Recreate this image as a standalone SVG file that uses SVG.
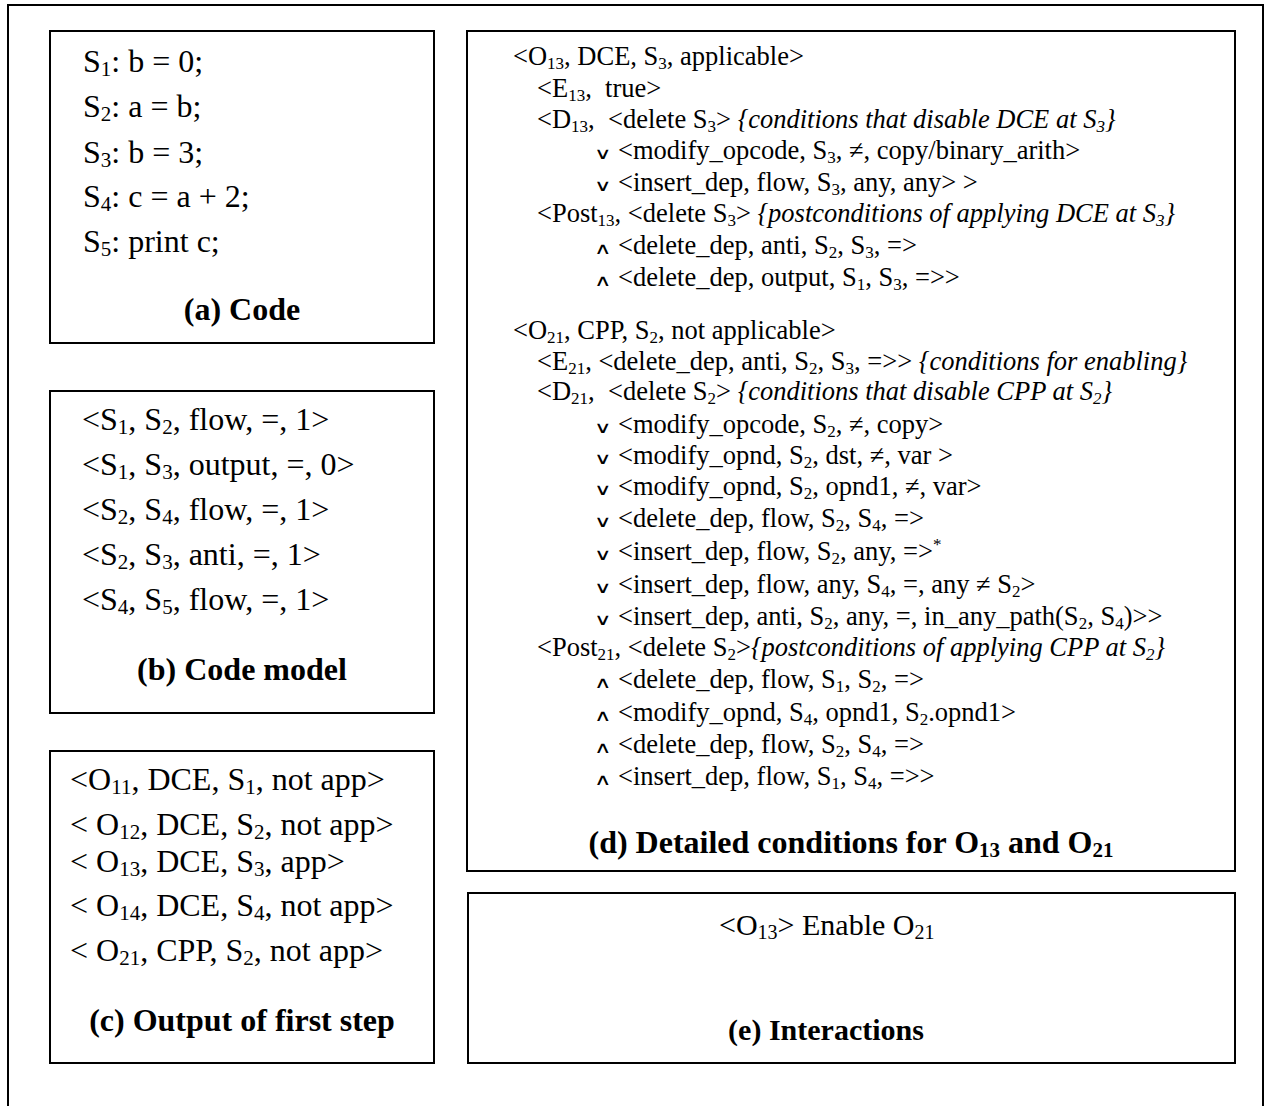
<svg xmlns="http://www.w3.org/2000/svg" width="1268" height="1106" viewBox="0 0 1268 1106">
<style>
.box{fill:none;stroke:#000;stroke-width:2}
.t{font-family:"Liberation Serif","Times New Roman",serif;font-size:32px;fill:#000}
.d{font-size:26.5px}
.e{font-size:30px}
.ttl{font-weight:bold;text-anchor:middle}
.s{font-size:21px}
.sd{font-size:17px}
.se{font-size:20px}
.op{font-family:"DejaVu Sans","DejaVu Serif",sans-serif;font-weight:200;font-size:16px;fill:#000}
.i{font-style:italic}
</style>
<rect x="8" y="5" width="1255" height="1115" class="box"/>

<g id="panel-a">
<rect x="50" y="31" width="384" height="312" class="box"/>
<text class="t" x="83" y="72">S<tspan class="s" dy="4">1</tspan><tspan dy="-4">: b = 0;</tspan></text>
<text class="t" x="83" y="117">S<tspan class="s" dy="4">2</tspan><tspan dy="-4">: a = b;</tspan></text>
<text class="t" x="83" y="163">S<tspan class="s" dy="4">3</tspan><tspan dy="-4">: b = 3;</tspan></text>
<text class="t" x="83" y="207">S<tspan class="s" dy="4">4</tspan><tspan dy="-4">: c = a + 2;</tspan></text>
<text class="t" x="83" y="252">S<tspan class="s" dy="4">5</tspan><tspan dy="-4">: print c;</tspan></text>
<text class="t ttl" x="242" y="320">(a) Code</text>
</g>

<g id="panel-b">
<rect x="50" y="391" width="384" height="322" class="box"/>
<text class="t" x="82" y="430">&lt;S<tspan class="s" dy="4">1</tspan><tspan dy="-4">, S</tspan><tspan class="s" dy="4">2</tspan><tspan dy="-4">, flow, =, 1&gt;</tspan></text>
<text class="t" x="82" y="475">&lt;S<tspan class="s" dy="4">1</tspan><tspan dy="-4">, S</tspan><tspan class="s" dy="4">3</tspan><tspan dy="-4">, output, =, 0&gt;</tspan></text>
<text class="t" x="82" y="520">&lt;S<tspan class="s" dy="4">2</tspan><tspan dy="-4">, S</tspan><tspan class="s" dy="4">4</tspan><tspan dy="-4">, flow, =, 1&gt;</tspan></text>
<text class="t" x="82" y="565">&lt;S<tspan class="s" dy="4">2</tspan><tspan dy="-4">, S</tspan><tspan class="s" dy="4">3</tspan><tspan dy="-4">, anti, =, 1&gt;</tspan></text>
<text class="t" x="82" y="610">&lt;S<tspan class="s" dy="4">4</tspan><tspan dy="-4">, S</tspan><tspan class="s" dy="4">5</tspan><tspan dy="-4">, flow, =, 1&gt;</tspan></text>
<text class="t ttl" x="242" y="680">(b) Code model</text>
</g>

<g id="panel-c">
<rect x="50" y="751" width="384" height="312" class="box"/>
<text class="t" x="70" y="790">&lt;O<tspan class="s" dy="4">11</tspan><tspan dy="-4">, DCE, S</tspan><tspan class="s" dy="4">1</tspan><tspan dy="-4">, not app&gt;</tspan></text>
<text class="t" x="70" y="835">&lt; O<tspan class="s" dy="4">12</tspan><tspan dy="-4">, DCE, S</tspan><tspan class="s" dy="4">2</tspan><tspan dy="-4">, not app&gt;</tspan></text>
<text class="t" x="70" y="872">&lt; O<tspan class="s" dy="4">13</tspan><tspan dy="-4">, DCE, S</tspan><tspan class="s" dy="4">3</tspan><tspan dy="-4">, app&gt;</tspan></text>
<text class="t" x="70" y="916">&lt; O<tspan class="s" dy="4">14</tspan><tspan dy="-4">, DCE, S</tspan><tspan class="s" dy="4">4</tspan><tspan dy="-4">, not app&gt;</tspan></text>
<text class="t" x="70" y="961">&lt; O<tspan class="s" dy="4">21</tspan><tspan dy="-4">, CPP, S</tspan><tspan class="s" dy="4">2</tspan><tspan dy="-4">, not app&gt;</tspan></text>
<text class="t ttl" x="242" y="1031">(c) Output of first step</text>
</g>

<g id="panel-d">
<rect x="467" y="31" width="768" height="840" class="box"/>
<text class="t d" x="513" y="65">&lt;O<tspan class="sd" dy="3.5">13</tspan><tspan dy="-3.5">, DCE, S</tspan><tspan class="sd" dy="3.5">3</tspan><tspan dy="-3.5">, applicable&gt;</tspan></text>
<text class="t d" x="537" y="97" xml:space="preserve">&lt;E<tspan class="sd" dy="3.5">13</tspan><tspan dy="-3.5">,  true&gt;</tspan></text>
<text class="t d" x="537" y="128" xml:space="preserve">&lt;D<tspan class="sd" dy="3.5">13</tspan><tspan dy="-3.5">,  &lt;delete S</tspan><tspan class="sd" dy="3.5">3</tspan><tspan dy="-3.5">&gt; </tspan><tspan class="i">{conditions that disable DCE at S</tspan><tspan class="sd i" dy="3.5">3</tspan><tspan class="i" dy="-3.5">}</tspan></text>
<text class="op" transform="translate(594,159) scale(1.5,1)">∨</text>
<text class="t d" x="618" y="159">&lt;modify_opcode, S<tspan class="sd" dy="3.5">3</tspan><tspan dy="-3.5">, ≠, copy/binary_arith&gt;</tspan></text>
<text class="op" transform="translate(594,191) scale(1.5,1)">∨</text>
<text class="t d" x="618" y="191" xml:space="preserve">&lt;insert_dep, flow, S<tspan class="sd" dy="3.5">3</tspan><tspan dy="-3.5">, any, any&gt; &gt;</tspan></text>
<text class="t d" x="537" y="222">&lt;Post<tspan class="sd" dy="3.5">13</tspan><tspan dy="-3.5">, &lt;delete S</tspan><tspan class="sd" dy="3.5">3</tspan><tspan dy="-3.5">&gt; </tspan><tspan class="i">{postconditions of applying DCE at S</tspan><tspan class="sd i" dy="3.5">3</tspan><tspan class="i" dy="-3.5">}</tspan></text>
<text class="op" transform="translate(594,254) scale(1.5,1)">∧</text>
<text class="t d" x="618" y="254">&lt;delete_dep, anti, S<tspan class="sd" dy="3.5">2</tspan><tspan dy="-3.5">, S</tspan><tspan class="sd" dy="3.5">3</tspan><tspan dy="-3.5">, =&gt;</tspan></text>
<text class="op" transform="translate(594,286) scale(1.5,1)">∧</text>
<text class="t d" x="618" y="286">&lt;delete_dep, output, S<tspan class="sd" dy="3.5">1</tspan><tspan dy="-3.5">, S</tspan><tspan class="sd" dy="3.5">3</tspan><tspan dy="-3.5">, =&gt;&gt;</tspan></text>

<text class="t d" x="513" y="339">&lt;O<tspan class="sd" dy="3.5">21</tspan><tspan dy="-3.5">, CPP, S</tspan><tspan class="sd" dy="3.5">2</tspan><tspan dy="-3.5">, not applicable&gt;</tspan></text>
<text class="t d" x="537" y="370">&lt;E<tspan class="sd" dy="3.5">21</tspan><tspan dy="-3.5">, &lt;delete_dep, anti, S</tspan><tspan class="sd" dy="3.5">2</tspan><tspan dy="-3.5">, S</tspan><tspan class="sd" dy="3.5">3</tspan><tspan dy="-3.5">, =&gt;&gt; </tspan><tspan class="i">{conditions for enabling}</tspan></text>
<text class="t d" x="537" y="400" xml:space="preserve">&lt;D<tspan class="sd" dy="3.5">21</tspan><tspan dy="-3.5">,  &lt;delete S</tspan><tspan class="sd" dy="3.5">2</tspan><tspan dy="-3.5">&gt; </tspan><tspan class="i">{conditions that disable CPP at S</tspan><tspan class="sd i" dy="3.5">2</tspan><tspan class="i" dy="-3.5">}</tspan></text>
<text class="op" transform="translate(594,433) scale(1.5,1)">∨</text>
<text class="t d" x="618" y="433">&lt;modify_opcode, S<tspan class="sd" dy="3.5">2</tspan><tspan dy="-3.5">, ≠, copy&gt;</tspan></text>
<text class="op" transform="translate(594,464) scale(1.5,1)">∨</text>
<text class="t d" x="618" y="464">&lt;modify_opnd, S<tspan class="sd" dy="3.5">2</tspan><tspan dy="-3.5">, dst, ≠, var &gt;</tspan></text>
<text class="op" transform="translate(594,495) scale(1.5,1)">∨</text>
<text class="t d" x="618" y="495">&lt;modify_opnd, S<tspan class="sd" dy="3.5">2</tspan><tspan dy="-3.5">, opnd1, ≠, var&gt;</tspan></text>
<text class="op" transform="translate(594,527) scale(1.5,1)">∨</text>
<text class="t d" x="618" y="527">&lt;delete_dep, flow, S<tspan class="sd" dy="3.5">2</tspan><tspan dy="-3.5">, S</tspan><tspan class="sd" dy="3.5">4</tspan><tspan dy="-3.5">, =&gt;</tspan></text>
<text class="op" transform="translate(594,560) scale(1.5,1)">∨</text>
<text class="t d" x="618" y="560">&lt;insert_dep, flow, S<tspan class="sd" dy="3.5">2</tspan><tspan dy="-3.5">, any, =&gt;</tspan><tspan class="sd" dy="-10">*</tspan></text>
<text class="op" transform="translate(594,593) scale(1.5,1)">∨</text>
<text class="t d" x="618" y="593">&lt;insert_dep, flow, any, S<tspan class="sd" dy="3.5">4</tspan><tspan dy="-3.5">, =, any ≠ S</tspan><tspan class="sd" dy="3.5">2</tspan><tspan dy="-3.5">&gt;</tspan></text>
<text class="op" transform="translate(594,625) scale(1.5,1)">∨</text>
<text class="t d" x="618" y="625">&lt;insert_dep, anti, S<tspan class="sd" dy="3.5">2</tspan><tspan dy="-3.5">, any, =, in_any_path(S</tspan><tspan class="sd" dy="3.5">2</tspan><tspan dy="-3.5">, S</tspan><tspan class="sd" dy="3.5">4</tspan><tspan dy="-3.5">)&gt;&gt;</tspan></text>
<text class="t d" x="537" y="656">&lt;Post<tspan class="sd" dy="3.5">21</tspan><tspan dy="-3.5">, &lt;delete S</tspan><tspan class="sd" dy="3.5">2</tspan><tspan dy="-3.5">&gt;</tspan><tspan class="i">{postconditions of applying CPP at S</tspan><tspan class="sd i" dy="3.5">2</tspan><tspan class="i" dy="-3.5">}</tspan></text>
<text class="op" transform="translate(594,688) scale(1.5,1)">∧</text>
<text class="t d" x="618" y="688">&lt;delete_dep, flow, S<tspan class="sd" dy="3.5">1</tspan><tspan dy="-3.5">, S</tspan><tspan class="sd" dy="3.5">2</tspan><tspan dy="-3.5">, =&gt;</tspan></text>
<text class="op" transform="translate(594,721) scale(1.5,1)">∧</text>
<text class="t d" x="618" y="721">&lt;modify_opnd, S<tspan class="sd" dy="3.5">4</tspan><tspan dy="-3.5">, opnd1, S</tspan><tspan class="sd" dy="3.5">2</tspan><tspan dy="-3.5">.opnd1&gt;</tspan></text>
<text class="op" transform="translate(594,753) scale(1.5,1)">∧</text>
<text class="t d" x="618" y="753">&lt;delete_dep, flow, S<tspan class="sd" dy="3.5">2</tspan><tspan dy="-3.5">, S</tspan><tspan class="sd" dy="3.5">4</tspan><tspan dy="-3.5">, =&gt;</tspan></text>
<text class="op" transform="translate(594,785) scale(1.5,1)">∧</text>
<text class="t d" x="618" y="785">&lt;insert_dep, flow, S<tspan class="sd" dy="3.5">1</tspan><tspan dy="-3.5">, S</tspan><tspan class="sd" dy="3.5">4</tspan><tspan dy="-3.5">, =&gt;&gt;</tspan></text>
<text class="t ttl" x="851" y="853">(d) Detailed conditions for O<tspan class="s" dy="4">13</tspan><tspan dy="-4"> and O</tspan><tspan class="s" dy="4">21</tspan></text>
</g>

<g id="panel-e">
<rect x="468" y="893" width="767" height="170" class="box"/>
<text class="t e" x="719" y="935">&lt;O<tspan class="se" dy="4">13</tspan><tspan dy="-4">&gt; Enable O</tspan><tspan class="se" dy="4">21</tspan></text>
<text class="t e ttl" x="826" y="1040">(e) Interactions</text>
</g>
</svg>
